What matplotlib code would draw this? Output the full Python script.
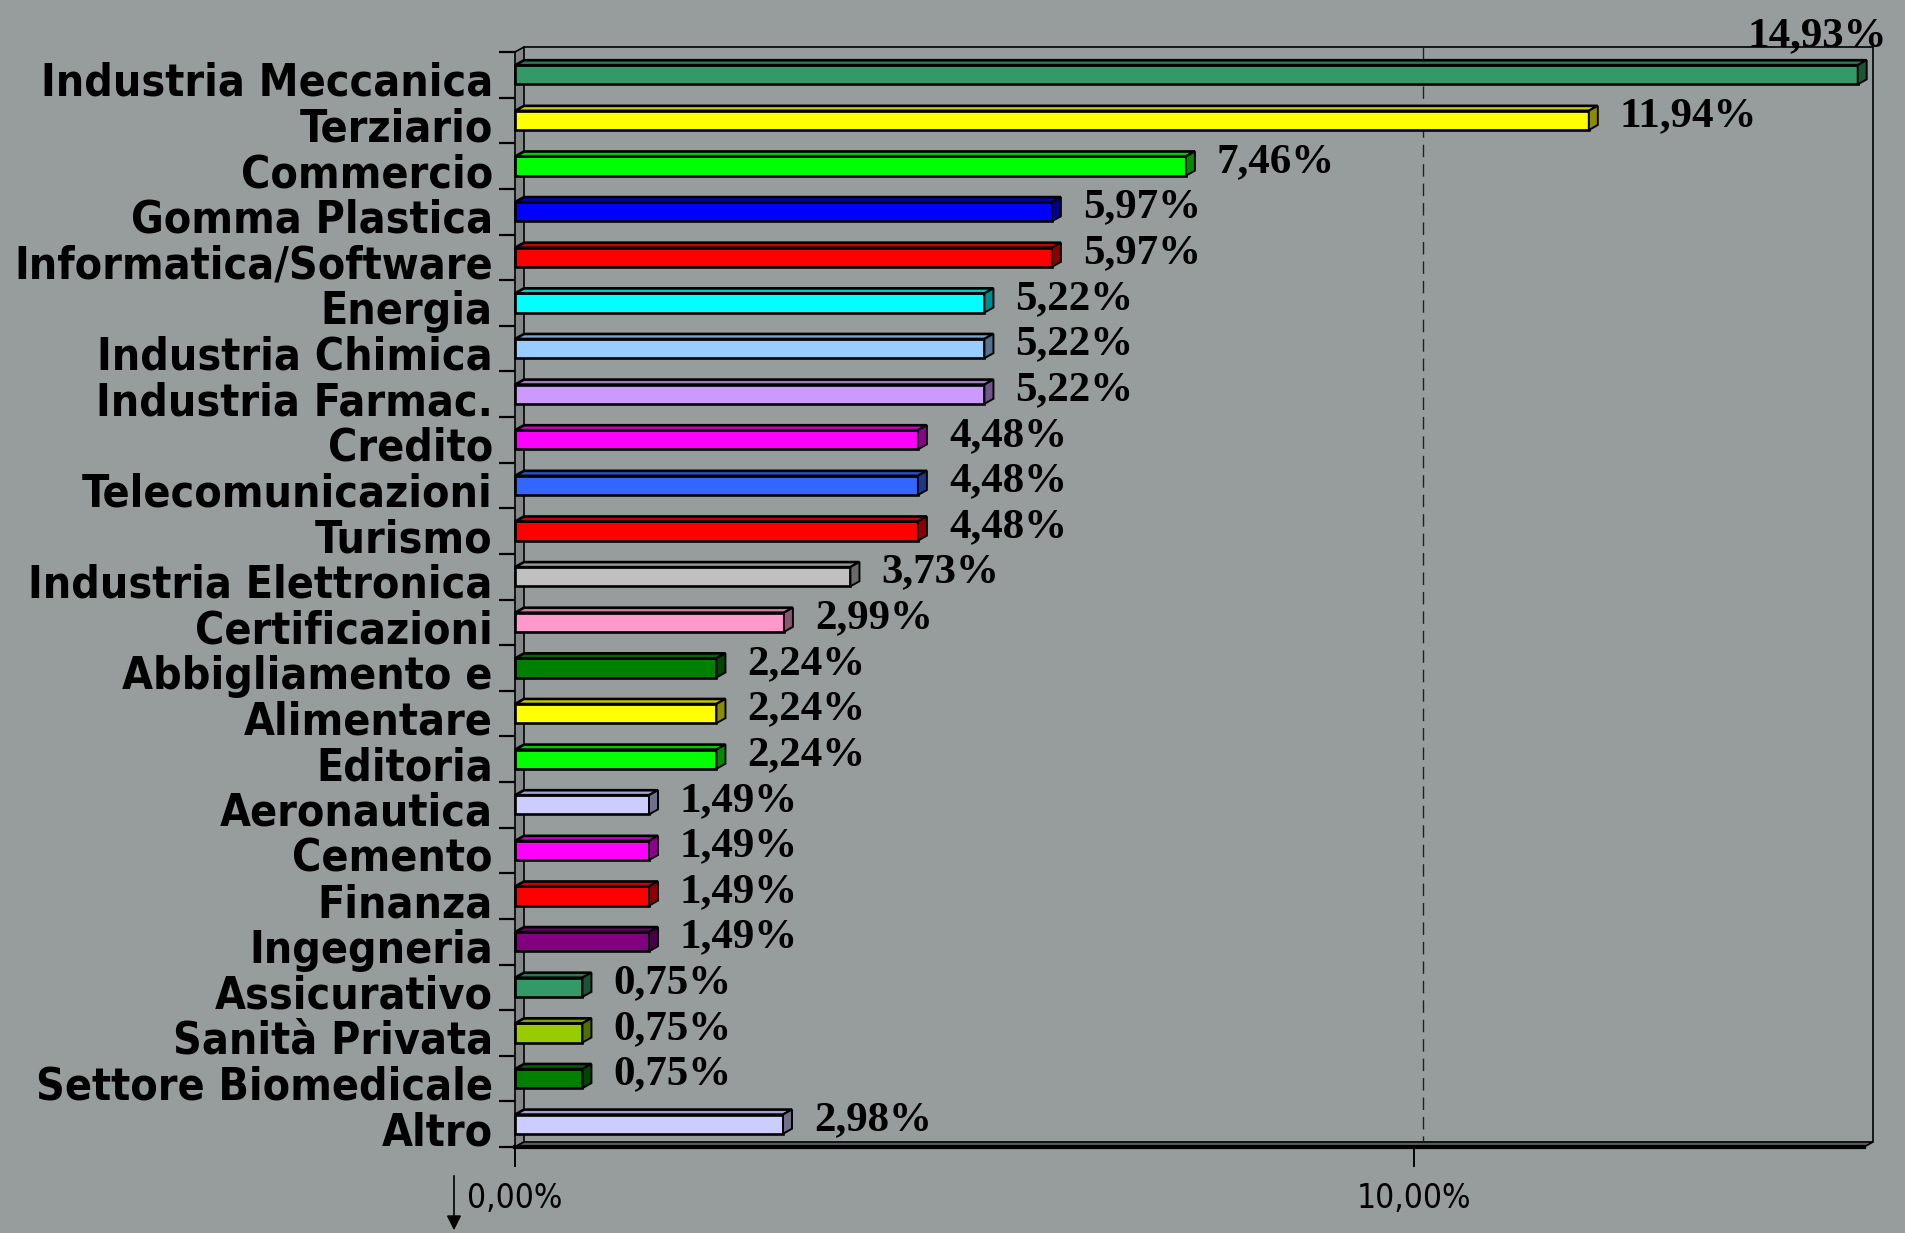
import matplotlib

matplotlib.use("Agg")

import matplotlib.pyplot as plt
from matplotlib.colors import to_rgb
from matplotlib.patches import FancyArrowPatch, Polygon
from matplotlib.ticker import FixedLocator, FuncFormatter
from matplotlib.transforms import ScaledTranslation

# data (percent of companies by sector)
sectors = [
    "Industria Meccanica", "Terziario", "Commercio", "Gomma Plastica",
    "Informatica/Software", "Energia", "Industria Chimica", "Industria Farmac.",
    "Credito", "Telecomunicazioni", "Turismo", "Industria Elettronica",
    "Certificazioni", "Abbigliamento e", "Alimentare", "Editoria",
    "Aeronautica", "Cemento", "Finanza", "Ingegneria",
    "Assicurativo", "Sanità Privata", "Settore Biomedicale", "Altro",
]
shares = [
    14.93, 11.94, 7.46, 5.97,
    5.97, 5.22, 5.22, 5.22,
    4.48, 4.48, 4.48, 3.73,
    2.99, 2.24, 2.24, 2.24,
    1.49, 1.49, 1.49, 1.49,
    0.75, 0.75, 0.75, 2.98,
]
bar_colors = [
    "#339966", "#ffff00", "#00ff00", "#0000ff",
    "#ff0000", "#00ffff", "#99ccff", "#cc99ff",
    "#ff00ff", "#3366ff", "#ff0000", "#c0c0c0",
    "#ff99cc", "#008000", "#ffff00", "#00ff00",
    "#ccccff", "#ff00ff", "#ff0000", "#800080",
    "#339966", "#99cc00", "#008000", "#ccccff",
]
x_ticks = [0, 10]

BG = "#979d9d"
WALL = "#858888"
X_MAX = 15.0
DX = 0.1    # 3d depth, data units along x
DY = 0.11   # 3d depth, category units (upwards)
BAR_H = 0.42


def shade(color, factor):
    r, g, b = to_rgb(color)
    return (r * factor, g * factor, b * factor)


def pct(value, _pos=None):
    return f"{value:.2f}".replace(".", ",") + "%"


fig = plt.figure(figsize=(19.05, 12.33), dpi=100, facecolor=BG)
ax = fig.add_axes([515 / 1905, 1 - 1147 / 1233, 1349 / 1905, 1095 / 1233])
ax.set_facecolor("none")
n = len(sectors)
ax.set_xlim(0, X_MAX)
ax.set_ylim(n - 0.5, -0.5)
for side in ("top", "right", "left", "bottom"):
    ax.spines[side].set_visible(False)

top, bottom = -0.5, n - 0.5

# left wall
ax.add_patch(Polygon([(0, bottom), (0, top), (DX, top - DY), (DX, bottom - DY)],
                     closed=True, facecolor=WALL, edgecolor="black", lw=1.2,
                     clip_on=False, zorder=1))
# back wall frame
ax.plot([DX, X_MAX + DX, X_MAX + DX], [top - DY, top - DY, bottom - DY],
        color="black", lw=1.2, clip_on=False, zorder=1)
# floor
ax.add_patch(Polygon([(0, bottom), (X_MAX, bottom), (X_MAX + DX, bottom - DY),
                      (DX, bottom - DY)], closed=True, facecolor="#5a5e5e",
                     edgecolor="black", lw=1.2, clip_on=False, zorder=1))
ax.plot([0, X_MAX], [bottom, bottom], color="black", lw=3, clip_on=False, zorder=2)
# gridline at 10%
for t in x_ticks[1:]:
    ax.plot([t + DX, t + DX], [top - DY, bottom - DY], color="#202020", lw=1,
            linestyle=(0, (9, 5)), clip_on=False, zorder=1)

ypos = list(range(n))
ax.barh(ypos, shares, height=BAR_H, color=bar_colors, edgecolor="black",
        linewidth=1.9, zorder=3, clip_on=False)
for y, v, c in zip(ypos, shares, bar_colors):
    y0, y1 = y - BAR_H / 2, y + BAR_H / 2
    ax.add_patch(Polygon([(0, y0), (v, y0), (v + DX, y0 - DY), (DX, y0 - DY)],
                         closed=True, facecolor=shade(c, 0.8), edgecolor="black",
                         lw=1.9, zorder=3, clip_on=False))
    ax.add_patch(Polygon([(v, y0), (v + DX, y0 - DY), (v + DX, y1 - DY), (v, y1)],
                         closed=True, facecolor=shade(c, 0.55), edgecolor="black",
                         lw=1.4, zorder=3, clip_on=False))

# value labels
val_font = dict(family="Liberation Serif", weight="bold", size=31, color="black")
for y, v in zip(ypos, shares):
    if v + DX + 1.4 > X_MAX:
        ax.annotate(pct(v), (X_MAX + DX, top - DY), xytext=(14, 1),
                    textcoords="offset pixels", ha="right", va="baseline",
                    annotation_clip=False, **val_font)
    else:
        ax.annotate(pct(v), (v + DX, y), xytext=(22, 4),
                    textcoords="offset pixels", ha="left", va="center",
                    annotation_clip=False, **val_font)

# y axis: labels at centres, tick marks at boundaries
ax.yaxis.set_major_locator(FixedLocator(ypos))
ax.set_yticklabels(sectors, fontfamily="DejaVu Sans", fontstretch="condensed",
                   fontweight="bold", fontsize=32)
ax.yaxis.set_minor_locator(FixedLocator([i - 0.5 for i in range(n + 1)]))
ax.tick_params(axis="y", which="major", length=0, pad=16)
ax.tick_params(axis="y", which="minor", length=16 * 0.72, width=1.6, color="black")
offset = ScaledTranslation(0, -4 / 100, fig.dpi_scale_trans)
for lab in ax.get_yticklabels():
    lab.set_transform(lab.get_transform() + offset)

# x axis
ax.xaxis.set_major_locator(FixedLocator(x_ticks))
ax.xaxis.set_major_formatter(FuncFormatter(pct))
ax.tick_params(axis="x", length=20 * 0.72, width=1.4, pad=11, labelsize=24)
for lab in ax.get_xticklabels():
    lab.set_fontfamily("DejaVu Sans")
    lab.set_fontstretch("condensed")

# little arrow below the axis
fig.patches.append(FancyArrowPatch(
    (454, 1233 - 1173), (454, 0), transform=None, arrowstyle="-|>",
    mutation_scale=22, color="black", lw=1.2))

fig.savefig("out.png", dpi=100, facecolor=BG)
